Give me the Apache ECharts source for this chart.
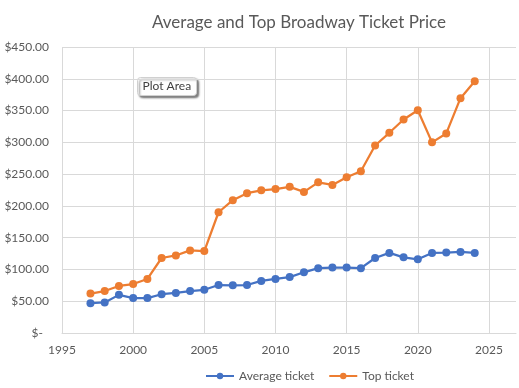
<!DOCTYPE html>
<html>
<head>
<meta charset="utf-8">
<script src="https://cdn.jsdelivr.net/npm/echarts@6/dist/echarts.min.js"></script>
<style>html,body{margin:0;padding:0;background:#fff}#c{width:519px;height:388px}</style>
</head>
<body>
<div id="c"></div>
<script>
var years = [1997,1998,1999,2000,2001,2002,2003,2004,2005,2006,2007,2008,2009,2010,2011,2012,2013,2014,2015,2016,2017,2018,2019,2020,2021,2022,2023,2024];
var averageTicket = [47,48,60,55,55,61,63,66,68,75.5,75,75.5,82,85,88,95.5,102,103,103,102,118,126,119,116,126,126.5,127.5,126];
var topTicket = [62,66,74,77,85,118,122,130,129,190,209,220,224.5,226.5,230,222,237,233,245,254.5,295,315,336,350.5,300,314,369.5,396];
var yTicks = [0,50,100,150,200,250,300,350,400,450];

var chart = echarts.init(document.getElementById('c'), null, {renderer:'canvas'});
var FONT = 'Lato';
function pairs(v){ return years.map(function(y,i){ return [y, v[i]]; }); }
chart.setOption({
  animation:false,
  backgroundColor:'#fff',
  textStyle:{fontFamily:FONT},
  title:{
    text:'Average and Top Broadway Ticket Price',
    left:294, top:9, textAlign:'center',
    textStyle:{fontFamily:FONT, fontSize:17, fontWeight:'normal', color:'#595959'}
  },
  grid:{left:62, right:0, top:47, bottom:55, containLabel:false},
  xAxis:{
    type:'value', min:1995, max:2026.9, interval:5,
    axisLine:{show:true, lineStyle:{color:'#d9d9d9', width:1}},
    axisTick:{show:false},
    splitLine:{show:true, showMaxLine:false, lineStyle:{color:'#d9d9d9', width:1}},
    axisLabel:{color:'#595959', fontSize:12, fontFamily:FONT, margin:11,
      formatter:function(v){ return v % 5 === 0 ? String(v) : ''; }}
  },
  yAxis:{
    type:'value', min:yTicks[0], max:yTicks[yTicks.length-1], interval:50,
    axisLine:{show:false},
    axisTick:{show:false},
    splitLine:{show:true, lineStyle:{color:'#d9d9d9', width:1}},
    axisLabel:{color:'#595959', fontSize:12, fontFamily:FONT, margin:13,
      formatter:function(v){ return v === 0 ? '{z|$-}' : '$' + v.toFixed(2); },
      rich:{z:{padding:[0,6,0,0], color:'#595959', fontSize:12, fontFamily:FONT}}}
  },
  legend:{
    top:365, left:200,
    itemWidth:28, itemHeight:8, itemGap:14,
    textStyle:{color:'#595959', fontSize:12, fontFamily:FONT},
    data:['Average ticket','Top ticket']
  },
  series:[
    {name:'Average ticket', type:'line', data:pairs(averageTicket),
     symbol:'circle', symbolSize:8, color:'#4472C4',
     lineStyle:{width:2.25, color:'#4472C4'}, itemStyle:{color:'#4472C4'}},
    {name:'Top ticket', type:'line', data:pairs(topTicket),
     symbol:'circle', symbolSize:8, color:'#ED7D31',
     lineStyle:{width:2.25, color:'#ED7D31'}, itemStyle:{color:'#ED7D31'}}
  ],
  graphic:[
    {type:'group', left:137, top:77, children:[
      {type:'rect', shape:{x:0,y:0,width:59,height:18,r:3},
       style:{fill:'#fefefe', stroke:'#d0d0d0', lineWidth:1,
              shadowBlur:2, shadowOffsetX:2, shadowOffsetY:2, shadowColor:'rgba(0,0,0,0.5)'}},
      {type:'text', x:5, y:3, style:{text:'Plot Area', fill:'#404040', fontSize:12, fontFamily:FONT}}
    ]}
  ]
});
</script>
</body>
</html>
